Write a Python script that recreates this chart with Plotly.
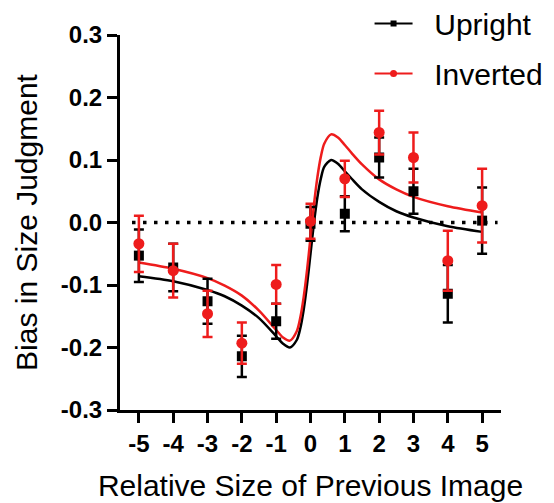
import plotly.graph_objects as go

# Data points (relative size of previous image)
x_pts = [-5, -4, -3, -2, -1, 0, 1, 2, 3, 4, 5]
upright_mean = [-0.053, -0.072, -0.126, -0.214, -0.158, -0.002, 0.014, 0.104, 0.050, -0.114, 0.003]
upright_err = [0.042, 0.038, 0.036, 0.033, 0.028, 0.027, 0.028, 0.032, 0.036, 0.046, 0.053]
inverted_mean = [-0.034, -0.077, -0.146, -0.193, -0.099, 0.002, 0.070, 0.144, 0.104, -0.061, 0.027]
inverted_err = [0.045, 0.043, 0.037, 0.033, 0.031, 0.028, 0.029, 0.035, 0.040, 0.048, 0.059]

# Fitted curves
x_fit = [-5, -4, -3, -2.5, -2, -1.5, -1, -0.8, -0.6, -0.4, -0.3, -0.2, -0.1, 0,
         0.1, 0.2, 0.3, 0.4, 0.6, 0.8, 1, 1.2, 1.5, 2, 2.5, 3, 4, 5]
upright_fit = [-0.086, -0.094, -0.108, -0.118, -0.133, -0.153, -0.182, -0.194, -0.200, -0.188,
               -0.170, -0.140, -0.099, -0.050, -0.001, 0.040, 0.070, 0.089, 0.100, 0.094,
               0.082, 0.070, 0.053, 0.033, 0.018, 0.008, -0.006, -0.015]
inverted_fit = [-0.064, -0.074, -0.089, -0.101, -0.117, -0.141, -0.172, -0.184, -0.189, -0.174,
                -0.153, -0.120, -0.076, -0.024, 0.028, 0.072, 0.105, 0.126, 0.141, 0.136,
                0.124, 0.111, 0.093, 0.069, 0.053, 0.041, 0.026, 0.016]

x_ticks = [-5, -4, -3, -2, -1, 0, 1, 2, 3, 4, 5]
y_ticks = [-0.3, -0.2, -0.1, 0.0, 0.1, 0.2, 0.3]
y_tick_text = ["-0.3", "-0.2", "-0.1", "0.0", "0.1", "0.2", "0.3"]
series_names = ["Upright", "Inverted"]

BLACK = "#000000"
RED = "#ee1c1c"
FONT = "Liberation Sans, Arial, sans-serif"
PAD = "\u00a0\u00a0"

fig = go.Figure()

# zero dotted line
fig.add_trace(go.Scatter(x=[-5.2, 5.45], y=[0, 0], mode="lines",
                         line=dict(color=BLACK, width=3.5, dash="3.5px,7.5px"),
                         showlegend=False, hoverinfo="skip"))

fig.add_trace(go.Scatter(x=x_fit, y=upright_fit, mode="lines",
                         line=dict(color=BLACK, width=2.5, shape="spline", smoothing=0.8),
                         showlegend=False))
fig.add_trace(go.Scatter(x=x_fit, y=inverted_fit, mode="lines",
                         line=dict(color=RED, width=2.5, shape="spline", smoothing=0.8),
                         showlegend=False))

fig.add_trace(go.Scatter(x=x_pts, y=upright_mean, mode="markers",
                         marker=dict(symbol="square", size=10, color=BLACK),
                         error_y=dict(type="data", array=upright_err, color=BLACK, thickness=2.5, width=5),
                         showlegend=False))
fig.add_trace(go.Scatter(x=x_pts, y=inverted_mean, mode="markers",
                         marker=dict(symbol="circle", size=11, color=RED),
                         error_y=dict(type="data", array=inverted_err, color=RED, thickness=2.5, width=5),
                         showlegend=False))

# legend entries
fig.add_trace(go.Scatter(x=[None], y=[None], mode="lines+markers", name=PAD + series_names[0], legendgroup="a",
                         line=dict(color=BLACK, width=2), marker=dict(symbol="square", size=6, color=BLACK)))
fig.add_trace(go.Scatter(x=[None], y=[None], mode="lines+markers", name=PAD + series_names[1], legendgroup="b",
                         line=dict(color=RED, width=2), marker=dict(symbol="circle", size=7, color=RED)))

fig.update_layout(
    width=554, height=503,
    margin=dict(l=112, r=61, t=27, b=101, autoexpand=False),
    paper_bgcolor="white", plot_bgcolor="white",
    font=dict(family=FONT, color=BLACK),
    legend=dict(x=0.655, y=1.10, xanchor="left", yanchor="top", traceorder="grouped",
                tracegroupgap=8, itemwidth=38, font=dict(size=30), bgcolor="rgba(0,0,0,0)"),
    xaxis=dict(range=[-5.55, 5.55], tickvals=x_ticks, ticktext=[str(v) for v in x_ticks],
               showgrid=False, zeroline=False, showline=True, linecolor=BLACK, linewidth=3,
               ticks="outside", ticklen=10, tickwidth=3, tickcolor=BLACK,
               tickfont=dict(size=24, family=FONT, weight="bold"),
               title=dict(text="Relative Size of Previous Image", font=dict(size=30), standoff=20)),
    yaxis=dict(range=[-0.3, 0.3], tickvals=y_ticks, ticktext=y_tick_text,
               showgrid=False, zeroline=False, showline=True, linecolor=BLACK, linewidth=3,
               ticks="outside", ticklen=10, tickwidth=3, tickcolor=BLACK,
               tickfont=dict(size=24, family=FONT, weight="bold"),
               title=dict(text="Bias in Size Judgment", font=dict(size=30), standoff=15)),
)

fig.write_html("out.html")
